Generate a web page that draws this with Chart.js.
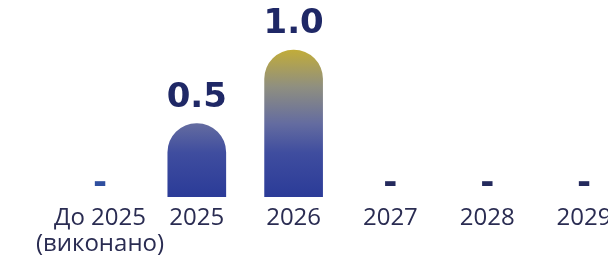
<!DOCTYPE html>
<html lang="uk">
<head>
    <meta charset="UTF-8">
    <title>Bars</title>
    <style>
        body {
            margin: 0;
            background: #ffffff;
        }

        .chart-box {
            width: 608px;
            height: 258px;
        }
    </style>
</head>
<body>
    <div class="chart-box">
        <canvas id="barChart" width="608" height="258"></canvas>
    </div>
    <script src="https://cdn.jsdelivr.net/npm/chart.js"></script>
    <script>
        // data
        const categories = [['До 2025', '(виконано)'], '2025', '2026', '2027', '2028', '2029'];
        const values = [0, 0.5, 1.0, 0, 0, 0];
        const valueLabels = ['-', '0.5', '1.0', '-', '-', '-'];
        const dashColors = ['#2f4f9f', '#1f2866', '#1f2866', '#242a5d', '#242a5d', '#242a5d'];

        // value labels above the bars, a dash where there is nothing
        const valueLabelPlugin = {
            id: 'valueLabels',
            afterDatasetsDraw(chart) {
                const ctx = chart.ctx;
                const xs = chart.scales.x;
                const ys = chart.scales.y;
                ctx.save();
                ctx.font = 'bold 34px "DejaVu Sans"';
                ctx.textAlign = 'center';
                ctx.textBaseline = 'alphabetic';
                values.forEach((v, i) => {
                    const x = xs.getPixelForValue(i);
                    ctx.fillStyle = dashColors[i];
                    if (v > 0) {
                        ctx.fillText(valueLabels[i], x, ys.getPixelForValue(v) - 17);
                    } else {
                        ctx.fillText(valueLabels[i], x, ys.getPixelForValue(0) - 4);
                    }
                });
                ctx.restore();
            }
        };

        function barGradient(context) {
            const chart = context.chart;
            const area = chart.chartArea;
            if (!area) return '#2c3c9a';
            const yScale = chart.scales.y;
            const g = chart.ctx.createLinearGradient(0, area.bottom, 0, yScale.getPixelForValue(1.0));
            g.addColorStop(0, '#2b3b98');
            g.addColorStop(0.3, '#3f4d9f');
            g.addColorStop(0.5, '#646ca0');
            g.addColorStop(0.75, '#8f8f80');
            g.addColorStop(1, '#c1ac3a');
            return g;
        }

        const ctx = document.getElementById('barChart').getContext('2d');
        new Chart(ctx, {
            type: 'bar',
            data: {
                labels: categories,
                datasets: [{
                    // zero years get no bar, only the dash label
                    data: values.map(v => (v > 0 ? v : null)),
                    backgroundColor: barGradient,
                    borderWidth: 0,
                    borderRadius: { topLeft: 29, topRight: 29, bottomLeft: 0, bottomRight: 0 },
                    borderSkipped: 'bottom',
                    barThickness: 58
                }]
            },
            options: {
                responsive: false,
                animation: false,
                layout: {
                    padding: { left: 100, right: 24, top: 6, bottom: 0 }
                },
                plugins: {
                    legend: { display: false },
                    tooltip: { enabled: false }
                },
                scales: {
                    x: {
                        offset: false,
                        border: { display: false },
                        grid: { display: false, drawTicks: false },
                        ticks: {
                            padding: 8,
                            color: '#2a2c52',
                            maxRotation: 0,
                            autoSkip: false,
                            font: { family: 'Open Sans', size: 24, lineHeight: 1.1 }
                        },
                        afterFit(scale) {
                            scale.paddingLeft = 0;
                            scale.paddingRight = 0;
                            scale.height = 61;
                        }
                    },
                    y: {
                        display: false,
                        min: 0,
                        max: 1.3
                    }
                }
            },
            plugins: [valueLabelPlugin]
        });
    </script>
</body>
</html>
